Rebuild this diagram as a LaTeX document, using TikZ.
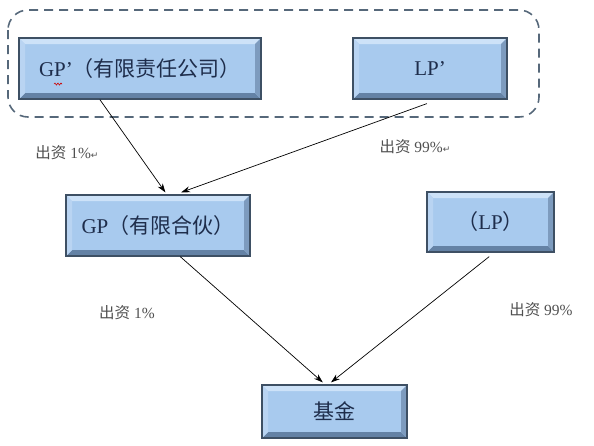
\documentclass[tikz,border=0pt]{standalone}
\usepackage{fontspec}
\setmainfont{Liberation Serif}
\newfontfamily\cjk{Noto Sans CJK SC}
\newfontfamily\symf{DejaVu Sans}
\usetikzlibrary{calc,arrows.meta,decorations.pathmorphing}
\definecolor{boxfill}{RGB}{168,202,238}
\definecolor{boxline}{RGB}{62,80,100}
\definecolor{bevtop}{RGB}{205,226,248}
\definecolor{bevbot}{RGB}{100,130,165}
\definecolor{bevleft}{RGB}{185,212,242}
\definecolor{bevright}{RGB}{125,155,190}
\definecolor{txtc}{RGB}{30,45,75}
\definecolor{lblc}{RGB}{80,80,80}
\definecolor{dashc}{RGB}{86,104,122}
\tikzset{
  bevelbox/.style={draw=boxline, line width=1.2pt, fill=boxfill, text=txtc,
    font=\fontsize{21}{25}\selectfont, inner sep=0pt,
    path picture={
      \def\bw{6}
      \fill[bevtop] (path picture bounding box.north west) -- (path picture bounding box.north east)
        -- ($(path picture bounding box.north east)+(-\bw,\bw)$) -- ($(path picture bounding box.north west)+(\bw,\bw)$) -- cycle;
      \fill[bevbot] (path picture bounding box.south west) -- (path picture bounding box.south east)
        -- ($(path picture bounding box.south east)+(-\bw,-\bw)$) -- ($(path picture bounding box.south west)+(\bw,-\bw)$) -- cycle;
      \fill[bevleft] (path picture bounding box.north west) -- (path picture bounding box.south west)
        -- ($(path picture bounding box.south west)+(\bw,-\bw)$) -- ($(path picture bounding box.north west)+(\bw,\bw)$) -- cycle;
      \fill[bevright] (path picture bounding box.north east) -- (path picture bounding box.south east)
        -- ($(path picture bounding box.south east)+(-\bw,-\bw)$) -- ($(path picture bounding box.north east)+(-\bw,\bw)$) -- cycle;
    }},
  lbl/.style={text=lblc, font=\fontsize{15.5}{18}\selectfont, inner sep=0pt},
  conn/.style={draw=black, line width=0.7pt, -{Stealth[length=9pt,width=6pt]}},
  grp/.style={draw=dashc, line width=1.6pt, dash pattern=on 9pt off 6pt, rounded corners=20pt},
}
\begin{document}
\begin{tikzpicture}[x=1pt,y=-1pt]
\useasboundingbox (0,0) rectangle (594,445);
\draw[grp] (8,10) rectangle (539,117);
\node[bevelbox, minimum width=242pt, minimum height=61pt] (gpp) at (140,68.5) {GP’{\cjk（有限责任公司）}};
\node[bevelbox, minimum width=154pt, minimum height=61pt] (lpp) at (430,68.5) {LP’};
\node[bevelbox, minimum width=184pt, minimum height=61pt] (gp) at (158,225.5) {GP{\cjk（有限合伙）}};
\node[bevelbox, minimum width=127pt, minimum height=60pt] (lp) at (490.5,222) {{\cjk（}LP{\cjk）}};
\node[bevelbox, minimum width=145pt, minimum height=53pt] (fund) at (334.5,411.5) {\cjk 基金};
\draw[red!80!black, line width=0.6pt, decorate, decoration={snake, amplitude=1pt, segment length=3pt}] (54,84) -- (62,84);
\node[lbl] (l1) at (67,153) {{\cjk 出资} 1\%{\symf\fontsize{9}{9}\selectfont ↵}};
\node[lbl] (l2) at (415,147) {{\cjk 出资} 99\%{\symf\fontsize{9}{9}\selectfont ↵}};
\node[lbl] (l3) at (127,313) {{\cjk 出资} 1\%};
\node[lbl] (l4) at (541,310) {{\cjk 出资} 99\%};
\coordinate (a1s) at ($(gpp.south west)!0.335!(gpp.south east)$);
\coordinate (a1e) at ($(gp.north west)!0.54!(gp.north east)+(0,-2)$);
\coordinate (a2s) at ($(lpp.south west)!0.48!(lpp.south east)+(0,4)$);
\coordinate (a2e) at ($(gp.north west)!0.625!(gp.north east)+(0,-2)$);
\coordinate (a3s) at ($(gp.south west)!0.62!(gp.south east)$);
\coordinate (a3e) at ($(fund.north west)!0.42!(fund.north east)+(0,-2)$);
\coordinate (a4s) at ($(lp.south west)!0.49!(lp.south east)+(0,4)$);
\coordinate (a4e) at ($(fund.north west)!0.476!(fund.north east)+(0,-2)$);
\draw[conn] (a1s) -- (a1e);
\draw[conn] (a2s) -- (a2e);
\draw[conn] (a3s) -- (a3e);
\draw[conn] (a4s) -- (a4e);
\end{tikzpicture}
\end{document}
